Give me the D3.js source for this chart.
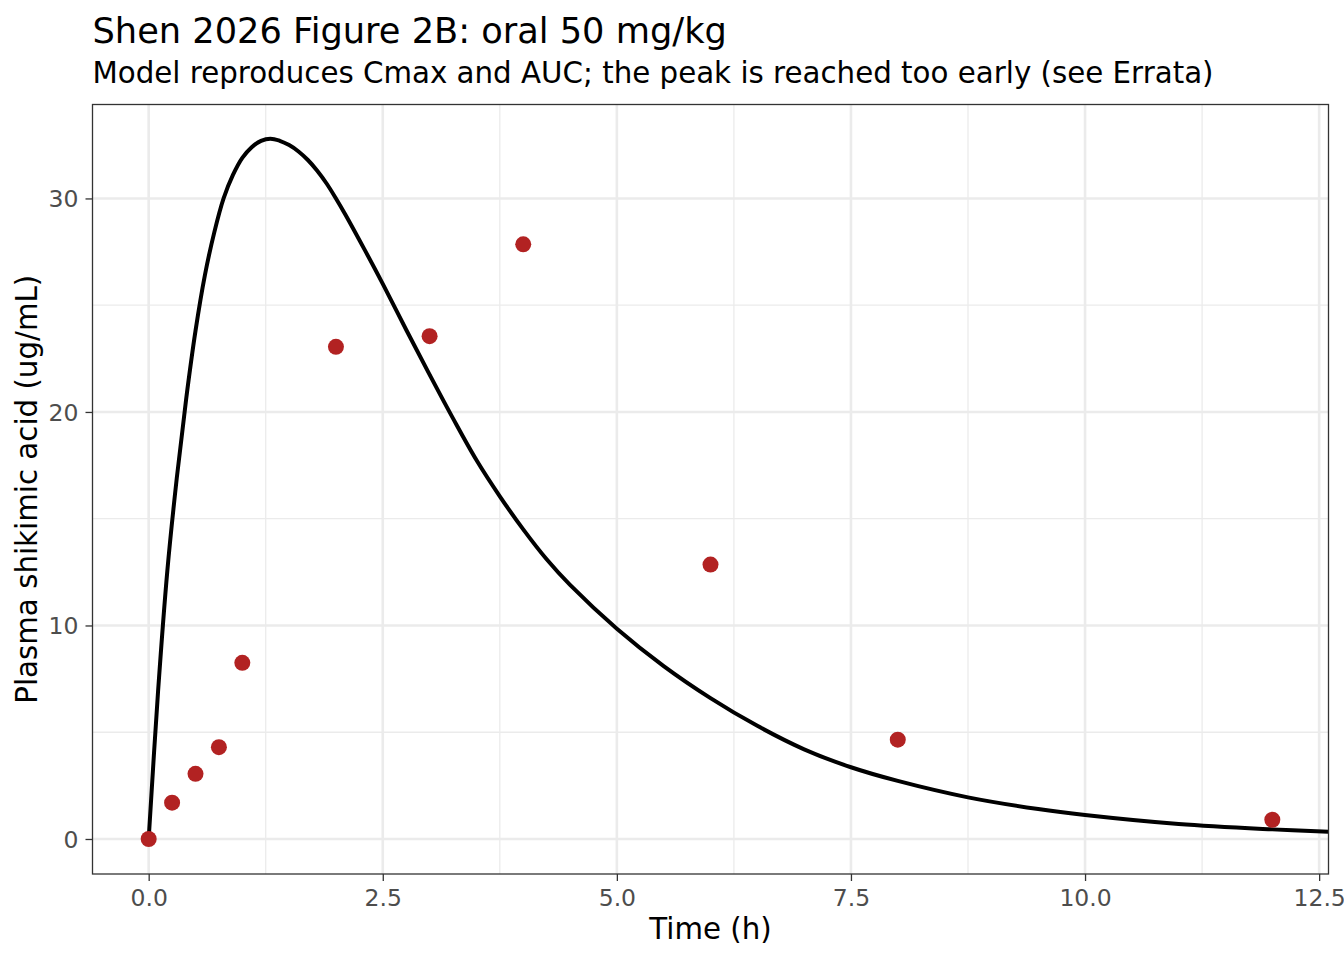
<!DOCTYPE html>
<html>
<head>
<meta charset="utf-8">
<script src="https://cdn.jsdelivr.net/npm/d3@7"></script>
<style>
  body { margin: 0; background: #fff; }
  svg { font-family: "DejaVu Sans", sans-serif; }
</style>
</head>
<body>
<div id="chart"></div>
<script>
// Observed data (points)
const obsTime = [0, 0.25, 0.5, 0.75, 1, 2, 3, 4, 6, 8, 12];
const obsConc = [0, 1.7, 3.05, 4.3, 8.25, 23.05, 23.55, 27.85, 12.85, 4.65, 0.9];

// Model curve
const modelTime = [0, 0.1, 0.2, 0.3, 0.4, 0.5, 0.6, 0.7, 0.8, 0.9, 1.0, 1.1, 1.2, 1.3, 1.4, 1.5, 1.6,
  1.7, 1.8, 1.9, 2.0, 2.1, 2.3, 2.5, 2.75, 3.0, 3.25, 3.5, 3.75, 4.0, 4.25, 4.5, 5.0, 5.5, 6.0, 6.5, 7.0, 7.5,
  8.0, 8.75, 9.5, 10, 11, 12, 12.6];
const modelConc = [0, 6.9, 12.6, 16.9, 20.6, 23.8, 26.4, 28.4, 30.0, 31.1, 31.9, 32.4, 32.7, 32.8, 32.7, 32.5, 32.2,
  31.8, 31.3, 30.7, 30.0, 29.25, 27.65, 26.0, 23.85, 21.75, 19.7, 17.75, 16.05, 14.5, 13.1, 11.9, 9.85, 8.1, 6.6, 5.3, 4.2, 3.36,
  2.72, 1.95, 1.4, 1.12, 0.7, 0.45, 0.34];

const xTicks = [0, 2.5, 5, 7.5, 10, 12.5];
const xMinor = [1.25, 3.75, 6.25, 8.75, 11.25];
const yTicks = [0, 10, 20, 30];
const yMinor = [5, 15, 25];

const W = 1344, H = 960;
const panel = { left: 92.5, right: 1328.5, top: 104.5, bottom: 874 };

const svg = d3.select("#chart")
    .append("svg")
    .attr("width", W)
    .attr("height", H);

const x = d3.scaleLinear()
    .domain([-0.6, 12.6])
    .range([panel.left, panel.right]);

const y = d3.scaleLinear()
    .domain([-1.64, 34.4])
    .range([panel.bottom, panel.top]);

// Grid lines (minor first, then major)
const grid = svg.append("g");
grid.selectAll("line.xminor")
    .data(xMinor)
    .enter().append("line")
    .attr("x1", d => x(d)).attr("x2", d => x(d))
    .attr("y1", panel.top).attr("y2", panel.bottom)
    .attr("stroke", "#EBEBEB").attr("stroke-width", 1.3);
grid.selectAll("line.yminor")
    .data(yMinor)
    .enter().append("line")
    .attr("y1", d => y(d)).attr("y2", d => y(d))
    .attr("x1", panel.left).attr("x2", panel.right)
    .attr("stroke", "#EBEBEB").attr("stroke-width", 1.3);
grid.selectAll("line.xmajor")
    .data(xTicks)
    .enter().append("line")
    .attr("x1", d => x(d)).attr("x2", d => x(d))
    .attr("y1", panel.top).attr("y2", panel.bottom)
    .attr("stroke", "#EBEBEB").attr("stroke-width", 2.6);
grid.selectAll("line.ymajor")
    .data(yTicks)
    .enter().append("line")
    .attr("y1", d => y(d)).attr("y2", d => y(d))
    .attr("x1", panel.left).attr("x2", panel.right)
    .attr("stroke", "#EBEBEB").attr("stroke-width", 2.6);

// Clip for the model line
svg.append("clipPath")
    .attr("id", "panel-clip")
    .append("rect")
    .attr("x", panel.left).attr("y", panel.top)
    .attr("width", panel.right - panel.left)
    .attr("height", panel.bottom - panel.top);

const line = d3.line()
    .x((d, i) => x(modelTime[i]))
    .y(d => y(d))
    .curve(d3.curveCatmullRom.alpha(0.5));

svg.append("path")
    .datum(modelConc)
    .attr("clip-path", "url(#panel-clip)")
    .attr("fill", "none")
    .attr("stroke", "#000")
    .attr("stroke-width", 4)
    .attr("stroke-linejoin", "round")
    .attr("d", line);

// Observed points
svg.selectAll("circle")
    .data(obsTime)
    .enter()
    .append("circle")
    .attr("cx", d => x(d))
    .attr("cy", (d, i) => y(obsConc[i]))
    .attr("r", 8)
    .attr("fill", "#B22222");

// Panel border
svg.append("rect")
    .attr("x", panel.left).attr("y", panel.top)
    .attr("width", panel.right - panel.left)
    .attr("height", panel.bottom - panel.top)
    .attr("fill", "none")
    .attr("stroke", "#333333")
    .attr("stroke-width", 1.3);

// Axes
const xAxis = svg.append("g")
    .attr("transform", `translate(0, ${panel.bottom})`)
    .call(d3.axisBottom(x).tickValues(xTicks).tickFormat(d3.format(".1f")).tickSize(7).tickPadding(8));
const yAxis = svg.append("g")
    .attr("transform", `translate(${panel.left}, 0)`)
    .call(d3.axisLeft(y).tickValues(yTicks).tickFormat(d3.format("d")).tickSize(7).tickPadding(7));

[xAxis, yAxis].forEach(a => {
    a.select(".domain").remove();
    a.selectAll(".tick line").attr("stroke", "#333333").attr("stroke-width", 1.3);
    a.selectAll(".tick text")
        .attr("fill", "#4D4D4D")
        .style("font-size", "23.5px")
        .style("font-family", "DejaVu Sans");
});
yAxis.selectAll(".tick text").attr("dy", "0.36em");

// Axis titles
svg.append("text")
    .attr("x", (panel.left + panel.right) / 2)
    .attr("y", 939)
    .attr("text-anchor", "middle")
    .style("font-size", "29.3px")
    .text("Time (h)");

svg.append("text")
    .attr("transform", `translate(36.5, ${(panel.top + panel.bottom) / 2}) rotate(-90)`)
    .attr("text-anchor", "middle")
    .style("font-size", "29.3px")
    .text("Plasma shikimic acid (ug/mL)");

// Title and subtitle
svg.append("text")
    .attr("x", panel.left)
    .attr("y", 42.5)
    .style("font-size", "35.2px")
    .text("Shen 2026 Figure 2B: oral 50 mg/kg");

svg.append("text")
    .attr("x", panel.left)
    .attr("y", 83)
    .style("font-size", "29.3px")
    .text("Model reproduces Cmax and AUC; the peak is reached too early (see Errata)");
</script>
</body>
</html>
